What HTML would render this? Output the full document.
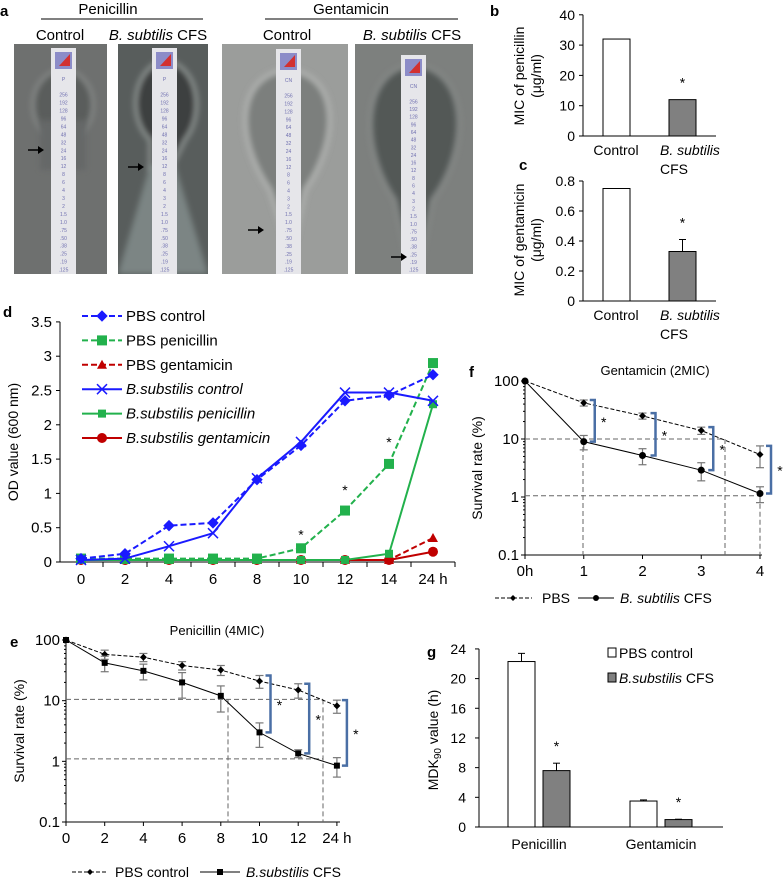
<!DOCTYPE html>
<html><head><meta charset="utf-8"><style>
body{margin:0;background:#fff}
svg{display:block;font-family:"Liberation Sans",Arial,sans-serif}
</style></head><body>
<svg id="fig" width="783" height="879" viewBox="0 0 783 879" xmlns="http://www.w3.org/2000/svg">
<defs>
<filter id="bl" x="-20%" y="-20%" width="140%" height="140%"><feGaussianBlur stdDeviation="3"/></filter>
</defs>
<!-- Panel a -->
<g>
<text x="0" y="16" font-size="15" font-weight="bold">a</text>
<text x="108" y="14" font-size="15" text-anchor="middle">Penicillin</text>
<line x1="41" y1="19" x2="203" y2="19" stroke="#000" stroke-width="1"/>
<text x="351" y="14" font-size="15" text-anchor="middle">Gentamicin</text>
<line x1="265" y1="19" x2="458" y2="19" stroke="#000" stroke-width="1"/>
<text x="60" y="40" font-size="15" text-anchor="middle">Control</text>
<text x="158" y="40" font-size="15" text-anchor="middle"><tspan font-style="italic">B. subtilis</tspan> CFS</text>
<text x="287" y="40" font-size="15" text-anchor="middle">Control</text>
<text x="412" y="40" font-size="15" text-anchor="middle"><tspan font-style="italic">B. subtilis</tspan> CFS</text>
<g>
<clipPath id="c1"><rect x="14" y="44" width="93" height="230"/></clipPath>
<rect x="14" y="44" width="93" height="230" fill="#6e706f"/>
<g clip-path="url(#c1)"><ellipse cx="63" cy="105" rx="30" ry="35" fill="#5a5d5c" stroke="#8c8f8e" stroke-width="3" filter="url(#bl)"/><rect x="40" y="120" width="46" height="50" fill="#656867" filter="url(#bl)"/></g>
</g>
<g>
<clipPath id="c2"><rect x="118" y="44" width="90" height="230"/></clipPath>
<rect x="118" y="44" width="90" height="230" fill="#585d5c"/>
<g clip-path="url(#c2)"><path d="M164 60 C 130 70 128 120 150 140 L 150 170 L 170 170 L 185 140 C 205 115 200 65 164 60 Z" fill="#3c4140" stroke="#9aa09e" stroke-width="3" filter="url(#bl)"/><path d="M118 274 L 150 165 L 175 165 L 208 274 Z" fill="#7b8584" filter="url(#bl)"/></g>
</g>
<g>
<clipPath id="c3"><rect x="222" y="44" width="126" height="230"/></clipPath>
<rect x="222" y="44" width="126" height="230" fill="#9b9d9b"/>
<g clip-path="url(#c3)"><path d="M288 70 C 235 75 235 140 270 190 L 285 235 L 295 235 L 305 190 C 340 140 340 75 288 70 Z" fill="#7c7f7d" stroke="#b4b6b4" stroke-width="4" filter="url(#bl)"/></g>
</g>
<g>
<clipPath id="c4"><rect x="355" y="44" width="118" height="230"/></clipPath>
<rect x="355" y="44" width="118" height="230" fill="#7d807e"/>
<g clip-path="url(#c4)"><path d="M414 65 C 360 70 360 150 395 200 L 408 262 L 420 262 L 432 200 C 470 150 470 70 414 65 Z" fill="#525856" stroke="#8d918f" stroke-width="3" filter="url(#bl)"/></g>
</g>
<g id="strips"></g>
</g>

<g>
<text x="490" y="16" font-size="15" font-weight="bold">b</text>
<text transform="translate(524,76) rotate(-90)" font-size="14" text-anchor="middle">MIC of penicillin</text>
<text transform="translate(541,76) rotate(-90)" font-size="14" text-anchor="middle">(μg/ml)</text>
<g id="gb"></g>
</g>
<g>
<text x="519" y="170" font-size="15" font-weight="bold">c</text>
<text transform="translate(524,240) rotate(-90)" font-size="14" text-anchor="middle">MIC of gentamicin</text>
<text transform="translate(541,240) rotate(-90)" font-size="14" text-anchor="middle">(μg/ml)</text>
<g id="gc"></g>
</g>
<g>
<text x="3" y="317" font-size="15" font-weight="bold">d</text>
<text transform="translate(18,442) rotate(-90)" font-size="14" text-anchor="middle">OD value (600 nm)</text>
<g id="gd"></g>
</g>
<g>
<text x="10" y="647" font-size="15" font-weight="bold">e</text>
<text x="217" y="635" font-size="13" text-anchor="middle">Penicillin (4MIC)</text>
<text transform="translate(24,731) rotate(-90)" font-size="14" text-anchor="middle">Survival rate (%)</text>
<g id="ge"></g>
</g>
<g>
<text x="469" y="377" font-size="15" font-weight="bold">f</text>
<text x="655" y="375" font-size="13" text-anchor="middle">Gentamicin (2MIC)</text>
<text transform="translate(482,468) rotate(-90)" font-size="14" text-anchor="middle">Survival rate (%)</text>
<g id="gf"></g>
</g>
<g>
<text x="427" y="657" font-size="15" font-weight="bold">g</text>
<text transform="translate(438,740) rotate(-90)" font-size="14" text-anchor="middle">MDK<tspan font-size="10" dy="3">90</tspan><tspan dy="-3"> value (h)</tspan></text>
<g id="gg"></g>
</g>
</svg>
<script>
// ===== data =====
const stripLabels = ["256","192","128","96","64","48","32","24","16","12","8","6","4","3","2","1.5","1.0",".75",".50",".38",".25",".19",".125"];
const micCats = ["Control","B. subtilis CFS"];
const micPen = [32, 12];
const micGen = [0.75, 0.33];
const micGenErr = [0, 0.08];
const bTicks = [0,10,20,30,40];
const cTicks = [0,0.2,0.4,0.6,0.8];

const odTimes = ["0","2","4","6","8","10","12","14","24 h"];
const pbsControl = [0.05,0.12,0.53,0.57,1.20,1.70,2.35,2.43,2.73];
const pbsPenicillin = [0.05,0.05,0.05,0.05,0.05,0.20,0.75,1.43,2.90];
const pbsGentamicin = [0.03,0.03,0.03,0.03,0.03,0.03,0.03,0.03,0.35];
const bsControl = [0.03,0.05,0.23,0.42,1.22,1.75,2.47,2.47,2.35];
const bsPenicillin = [0.03,0.03,0.03,0.03,0.03,0.03,0.03,0.12,2.30];
const bsGentamicin = [0.03,0.03,0.03,0.03,0.03,0.03,0.03,0.03,0.15];
const odTicks = [0,0.5,1,1.5,2,2.5,3,3.5];
const odStars = [[5,0.4],[6,1.05],[7,1.75]];

const eTimes = ["0","2","4","6","8","10","12","24 h"];
const ePbs = [100,58,52,38,32,21,15,8.2];
const ePbsErr = [0,10,8,6,6,5,4,2];
const eCfs = [100,42,31,20,12,3.0,1.35,0.85];
const eCfsErr = [0,12,9,9,5.5,1.3,0.2,0.3];
const logTicks = [100,10,1,0.1];
const logTickLabels = ["100","10","1","0.1"];

const fTimes = ["0h","1","2","3","4"];
const fPbs = [100,42,25,14,5.4];
const fPbsErr = [0,5,3,2,2.2];
const fCfs = [100,9,5.2,2.9,1.15];
const fCfsErr = [0,2.5,1.6,1.0,0.35];

const gGroups = ["Penicillin","Gentamicin"];
const gPbs = [22.3, 3.5];
const gPbsErr = [1.1, 0.15];
const gCfs = [7.6, 1.0];
const gCfsErr = [1.0, 0.05];
const gTicks = [0,4,8,12,16,20,24];

// ===== helpers =====
const NS="http://www.w3.org/2000/svg";
function mk(parent, tag, attrs){const e=document.createElementNS(NS,tag);for(const k in attrs)e.setAttribute(k,attrs[k]);parent.appendChild(e);return e;}
function txt(parent,x,y,s,size,anchor,extra){const t=mk(parent,'text',Object.assign({x:x,y:y,'font-size':size,'text-anchor':anchor||'middle'},extra||{}));t.textContent=s;return t;}

// ===== strips =====
const strips=document.getElementById('strips');
const stripDefs=[[51,48,"P"],[152,48,"P"],[276,49,"CN"],[401,55,"CN"]];
stripDefs.forEach((sd,si)=>{
  const g=mk(strips,'g',{});
  
  
  mk(g,'rect',{x:sd[0],y:sd[1],width:25,height:274-sd[1],fill:'#e6e6ea'});
  mk(g,'rect',{x:sd[0]+4,y:sd[1]+4,width:17,height:17,fill:'#8c8cc8'});
  mk(g,'path',{d:`M${sd[0]+8} ${sd[1]+18} L${sd[0]+19} ${sd[1]+6} L${sd[0]+19} ${sd[1]+18} Z`,fill:'#d23030'});
  txt(g,sd[0]+12.5,sd[1]+33,sd[2],5,'middle',{fill:'#7070b0'});
  const top=sd[1]+43, step=(274-top)/stripLabels.length;
  stripLabels.forEach((l,i)=>{
    const y=top+i*step+step*0.7;
    txt(g,sd[0]+12.5,y,l,5,'middle',{fill:'#7070b0'});
  });
});
const arrows=[[28,150],[128,167],[248,230],[391,257]];
arrows.forEach(a=>{
  const g=mk(strips,'g',{});
  
  
  mk(g,'line',{x1:a[0],y1:a[1],x2:a[0]+14,y2:a[1],stroke:'#000','stroke-width':1.5});
  mk(g,'path',{d:`M${a[0]+16} ${a[1]} L${a[0]+10} ${a[1]-4} L${a[0]+10} ${a[1]+4} Z`,fill:'#000'});
});

// ===== bar panels b, c =====
function micPanel(id, vals, errs, ticks, yfn, fmt){
  const g=document.getElementById(id);
  const x0=583, xEnd=716;
  mk(g,'line',{x1:x0,y1:yfn(ticks[ticks.length-1]),x2:x0,y2:yfn(0),stroke:'#000'});
  mk(g,'line',{x1:x0,y1:yfn(0),x2:xEnd,y2:yfn(0),stroke:'#000'});
  ticks.forEach(t=>{
    mk(g,'line',{x1:x0-4,y1:yfn(t),x2:x0,y2:yfn(t),stroke:'#000'});
    const lab=txt(g,x0-8,yfn(t)+5,fmt(t),14,'end');
    
    
  });
  const xs=[603,669];
  vals.forEach((v,i)=>{
    const r=mk(g,'rect',{x:xs[i],y:yfn(v),width:27,height:yfn(0)-yfn(v),fill:i?'#808080':'#fff',stroke:'#000'});
    
    
    if(errs && errs[i]>0){
      mk(g,'line',{x1:xs[i]+13.5,y1:yfn(v),x2:xs[i]+13.5,y2:yfn(v+errs[i]),stroke:'#000'});
      mk(g,'line',{x1:xs[i]+10,y1:yfn(v+errs[i]),x2:xs[i]+17,y2:yfn(v+errs[i]),stroke:'#000'});
    }
  });
  const top=errs?vals[1]+errs[1]:vals[1];
  txt(g,682.5,yfn(top)-12,'*',14);
  const y0=yfn(0);
  const c1=txt(g,616,y0+19,'Control',14);
  
  
  const c2=txt(g,660,y0+19,'B. subtilis',14,'start',{'font-style':'italic'});
  
  
  txt(g,660,y0+38,'CFS',14,'start');
}
micPanel('gb',micPen,null,bTicks,v=>136-v*3.03,t=>String(t));
micPanel('gc',micGen,micGenErr,cTicks,v=>301-v*150,t=>t===0?'0':t.toFixed(1));

// ===== panel d =====
(function(){
  const g=document.getElementById('gd');
  const xd=i=>81+i*44, yd=v=>562-v*68.6;
  mk(g,'line',{x1:60,y1:yd(3.5),x2:60,y2:yd(0),stroke:'#000'});
  mk(g,'line',{x1:60,y1:yd(0),x2:455,y2:yd(0),stroke:'#000'});
  odTicks.forEach(t=>{
    mk(g,'line',{x1:56,y1:yd(t),x2:60,y2:yd(t),stroke:'#000'});
    const l=txt(g,52,yd(t)+5,String(t),15,'end');
    
    
  });
  odTimes.forEach((s,i)=>{
    mk(g,'line',{x1:xd(i)+22,y1:yd(0),x2:xd(i)+22,y2:yd(0)+5,stroke:'#000'});
    const l=txt(g,xd(i),yd(0)+22,s,15);
    
    
  });
  const BLUE='#1a1aff', GREEN='#22b14c', RED='#c00000';
  function marker(p,type,x,y,col){
    if(type==='diamond') return mk(p,'path',{d:`M${x} ${y-5} L${x+5} ${y} L${x} ${y+5} L${x-5} ${y} Z`,fill:col,stroke:col});
    if(type==='square') return mk(p,'rect',{x:x-5,y:y-5,width:10,height:10,fill:col});
    if(type==='smallsq') return mk(p,'rect',{x:x-4,y:y-4,width:8,height:8,fill:col});
    if(type==='tri') return mk(p,'path',{d:`M${x} ${y-5} L${x+5} ${y+4} L${x-5} ${y+4} Z`,fill:col});
    if(type==='x') return mk(p,'path',{d:`M${x-5} ${y-5} L${x+5} ${y+5} M${x+5} ${y-5} L${x-5} ${y+5}`,stroke:col,'stroke-width':1.5,fill:'none'});
    if(type==='circle') return mk(p,'circle',{cx:x,cy:y,r:5,fill:col});
  }
  const series=[
    [bsGentamicin,RED,false,'circle','series-bs-gentamicin'],
    [pbsGentamicin,RED,true,'tri','series-pbs-gentamicin'],
    [bsPenicillin,GREEN,false,'smallsq','series-bs-penicillin'],
    [pbsPenicillin,GREEN,true,'square','series-pbs-penicillin'],
    [bsControl,BLUE,false,'x','series-bs-control'],
    [pbsControl,BLUE,true,'diamond','series-pbs-control']
  ];
  series.forEach(s=>{
    const sg=mk(g,'g',{});
    
    
    const pts=s[0].map((v,i)=>xd(i)+','+yd(v)).join(' ');
    mk(sg,'polyline',{points:pts,fill:'none',stroke:s[1],'stroke-width':2,'stroke-dasharray':s[2]?'6,3':'none'});
    s[0].forEach((v,i)=>{const m=marker(sg,s[3],xd(i),yd(v),s[1]);});
  });
  odStars.forEach(st=>txt(g,xd(st[0]),yd(st[1])+5,'*',14));
  const leg=[
    ['PBS control',BLUE,true,'diamond',false],
    ['PBS penicillin',GREEN,true,'square',false],
    ['PBS gentamicin',RED,true,'tri',false],
    ['B.substilis control',BLUE,false,'x',true],
    ['B.substilis penicillin',GREEN,false,'smallsq',true],
    ['B.substilis gentamicin',RED,false,'circle',true]
  ];
  leg.forEach((l,i)=>{
    const y=316+i*24.4;
    const lg=mk(g,'g',{});
    
    
    mk(lg,'line',{x1:82,y1:y,x2:122,y2:y,stroke:l[1],'stroke-width':2,'stroke-dasharray':l[2]?'6,3':'none'});
    marker(lg,l[3],102,y,l[1]);
    txt(lg,126,y+5,l[0],15,'start',l[4]?{'font-style':'italic'}:{});
  });
})();

// ===== log panels e, f =====
function logPanel(id,opt){
  const g=document.getElementById(id);
  const {x0,xStep,yTop,dec,xEnd,times,pbs,pbsErr,cfs,cfsErr,pbsMk,cfsMk}=opt;
  const X=i=>x0+i*xStep, Y=v=>yTop+(2-Math.log10(v))*dec;
  mk(g,'line',{x1:x0,y1:Y(100),x2:x0,y2:Y(0.1),stroke:'#000'});
  mk(g,'line',{x1:x0,y1:Y(0.1),x2:xEnd,y2:Y(0.1),stroke:'#000'});
  logTicks.forEach((t,i)=>{
    mk(g,'line',{x1:x0-4,y1:Y(t),x2:x0,y2:Y(t),stroke:'#000'});
    const l=txt(g,x0-6,Y(t)+5,logTickLabels[i],15,'end');
    
    
    if(t>0.1){for(let m=2;m<10;m++){const v=t/10*m;mk(g,'line',{x1:x0-2,y1:Y(v),x2:x0,y2:Y(v),stroke:'#000'});}}
  });
  times.forEach((s,i)=>{
    mk(g,'line',{x1:X(i),y1:Y(0.1),x2:X(i),y2:Y(0.1)+4,stroke:'#000'});
    const l=txt(g,X(i),Y(0.1)+21,s,15);
    
    
  });
  opt.guides(g,X,Y);
  function series(vals,errs,dash,mkType,name){
    const sg=mk(g,'g',{});
    
    
    vals.forEach((v,i)=>{
      if(errs[i]>0){
        const hi=Y(v+errs[i]), lo=Y(Math.max(v-errs[i],0.101));
        mk(sg,'line',{x1:X(i),y1:hi,x2:X(i),y2:lo,stroke:'#777','stroke-width':1.2});
        mk(sg,'line',{x1:X(i)-4,y1:hi,x2:X(i)+4,y2:hi,stroke:'#777','stroke-width':1.2});
        mk(sg,'line',{x1:X(i)-4,y1:lo,x2:X(i)+4,y2:lo,stroke:'#777','stroke-width':1.2});
      }
    });
    mk(sg,'polyline',{points:vals.map((v,i)=>X(i)+','+Y(v)).join(' '),fill:'none',stroke:'#000','stroke-width':1,'stroke-dasharray':dash?'4,2':'none'});
    vals.forEach((v,i)=>{
      let m;
      if(mkType==='diamond') m=mk(sg,'path',{d:`M${X(i)} ${Y(v)-3.5} L${X(i)+3.5} ${Y(v)} L${X(i)} ${Y(v)+3.5} L${X(i)-3.5} ${Y(v)} Z`,fill:'#000'});
      else if(mkType==='square') m=mk(sg,'rect',{x:X(i)-3,y:Y(v)-3,width:6,height:6,fill:'#000'});
      else m=mk(sg,'circle',{cx:X(i),cy:Y(v),r:3.5,fill:'#000'});
      
      
    });
  }
  series(pbs,pbsErr,true,pbsMk,'series-pbs');
  series(cfs,cfsErr,false,cfsMk,'series-cfs');
  opt.brackets.forEach(b=>{
    const i=b[0], bx=X(i)+b[1];
    const y1=Y(pbs[i]+pbsErr[i]), y2=Y(cfs[i]);
    const bg=mk(g,'g',{});
    
    
    mk(bg,'path',{d:`M${bx-5} ${y1} L${bx} ${y1} L${bx} ${y2} L${bx-5} ${y2}`,fill:'none',stroke:'#4a6fa5','stroke-width':2.5});
    txt(bg,bx+9,(y1+y2)/2+6,'*',14);
  });
  return {X,Y};
}
logPanel('ge',{x0:66,xStep:38.7,yTop:640,dec:60.67,xEnd:340,times:eTimes,pbs:ePbs,pbsErr:ePbsErr,cfs:eCfs,cfsErr:eCfsErr,pbsMk:'diamond',cfsMk:'square',
  guides:(g,X,Y)=>{
    const gs={stroke:'#666','stroke-dasharray':'5,3','stroke-width':1};
    mk(g,'line',Object.assign({x1:66,y1:Y(10.5),x2:323,y2:Y(10.5)},gs));
    mk(g,'line',Object.assign({x1:66,y1:Y(1.1),x2:323,y2:Y(1.1)},gs));
    mk(g,'line',Object.assign({x1:228,y1:Y(10.5),x2:228,y2:Y(0.1)},gs));
    mk(g,'line',Object.assign({x1:323,y1:Y(10.5),x2:323,y2:Y(0.1)},gs));
  },
  brackets:[[5,11],[6,11],[7,10]]});
logPanel('gf',{x0:525,xStep:58.75,yTop:381,dec:58,xEnd:762,times:fTimes,pbs:fPbs,pbsErr:fPbsErr,cfs:fCfs,cfsErr:fCfsErr,pbsMk:'diamond',cfsMk:'circle',
  guides:(g,X,Y)=>{
    const gs={stroke:'#666','stroke-dasharray':'5,3','stroke-width':1};
    mk(g,'line',Object.assign({x1:525,y1:Y(10),x2:725,y2:Y(10)},gs));
    mk(g,'line',Object.assign({x1:525,y1:Y(1.05),x2:760,y2:Y(1.05)},gs));
    mk(g,'line',Object.assign({x1:583,y1:Y(10),x2:583,y2:Y(0.1)},gs));
    mk(g,'line',Object.assign({x1:725,y1:Y(10),x2:725,y2:Y(0.1)},gs));
    mk(g,'line',Object.assign({x1:760,y1:Y(1.05),x2:760,y2:Y(0.1)},gs));
  },
  brackets:[[1,11],[2,13],[3,12],[4,11]]});
(function(){
  const ge=document.getElementById('ge');
  let lg=mk(ge,'g',{});
  
  
  mk(lg,'line',{x1:72,y1:872,x2:108,y2:872,stroke:'#000','stroke-dasharray':'4,2'});
  mk(lg,'path',{d:'M90 869 L93 872 L90 875 L87 872 Z',fill:'#000'});
  txt(lg,115,877,'PBS control',14,'start');
  lg=mk(ge,'g',{});
  
  
  mk(lg,'line',{x1:200,y1:872,x2:240,y2:872,stroke:'#000'});
  mk(lg,'rect',{x:217,y:869,width:6,height:6,fill:'#000'});
  const t=txt(lg,246,877,'',14,'start');
  t.innerHTML='<tspan font-style="italic">B.substilis</tspan> CFS';
  const gf=document.getElementById('gf');
  lg=mk(gf,'g',{});
  
  
  mk(lg,'line',{x1:495,y1:598,x2:532,y2:598,stroke:'#000','stroke-dasharray':'4,2'});
  mk(lg,'path',{d:'M513 595 L516 598 L513 601 L510 598 Z',fill:'#000'});
  txt(lg,542,603,'PBS',14,'start');
  lg=mk(gf,'g',{});
  
  
  mk(lg,'line',{x1:578,y1:598,x2:614,y2:598,stroke:'#000'});
  mk(lg,'circle',{cx:596,cy:598,r:3,fill:'#000'});
  const t2=txt(lg,620,603,'',14,'start');
  t2.innerHTML='<tspan font-style="italic">B. subtilis</tspan> CFS';
})();

// ===== panel g =====
(function(){
  const g=document.getElementById('gg');
  const yg=v=>827-v*7.42;
  mk(g,'line',{x1:479,y1:yg(24),x2:479,y2:yg(0),stroke:'#000'});
  mk(g,'line',{x1:479,y1:yg(0),x2:723,y2:yg(0),stroke:'#000'});
  gTicks.forEach(t=>{
    mk(g,'line',{x1:475,y1:yg(t),x2:479,y2:yg(t),stroke:'#000'});
    const l=txt(g,466,yg(t)+5,String(t),14,'end');
    
    
  });
  const gx=[508,630];
  gGroups.forEach((name,i)=>{
    const bars=[[gPbs[i],gPbsErr[i],'#fff',gx[i],'bar-pbs-control'],[gCfs[i],gCfsErr[i],'#808080',gx[i]+35,'bar-cfs']];
    bars.forEach(b=>{
      const r=mk(g,'rect',{x:b[3],y:yg(b[0]),width:27,height:yg(0)-yg(b[0]),fill:b[2],stroke:'#000'});
      
      
      const top=yg(b[0]+b[1]);
      mk(g,'line',{x1:b[3]+13.5,y1:yg(b[0]),x2:b[3]+13.5,y2:top,stroke:'#000'});
      mk(g,'line',{x1:b[3]+10,y1:top,x2:b[3]+17,y2:top,stroke:'#000'});
    });
    txt(g,gx[i]+48.5,yg(gCfs[i]+gCfsErr[i])-12,'*',14);
    const l=txt(g,gx[i]+31,yg(0)+22,name,14);
    
    
  });
  let lg=mk(g,'g',{});
  
  
  mk(lg,'rect',{x:608,y:648,width:8,height:9,fill:'#fff',stroke:'#000'});
  txt(lg,619,658,'PBS control',14,'start');
  lg=mk(g,'g',{});
  
  
  mk(lg,'rect',{x:608,y:673,width:8,height:9,fill:'#808080',stroke:'#000'});
  const t=txt(lg,619,683,'',14,'start');
  t.innerHTML='<tspan font-style="italic">B.substilis</tspan>  CFS';
})();
</script>
</body></html>
